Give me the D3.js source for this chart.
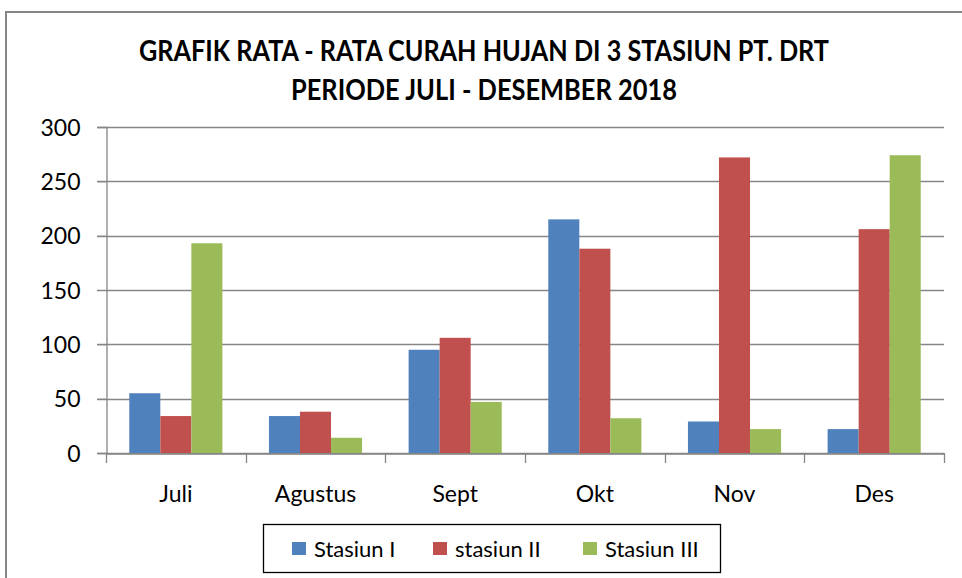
<!DOCTYPE html>
<html>
<head>
<meta charset="utf-8">
<script src="https://cdn.jsdelivr.net/npm/d3@7"></script>
<style>
  body { margin: 0; background: #fff; }
  text { font-family: Lato, "Open Sans", sans-serif; fill: #000; }
</style>
</head>
<body>
<script>
// Rainfall chart, 3 stations, Jul - Dec 2018
var width = 962;
var height = 578;

var months = ["Juli", "Agustus", "Sept", "Okt", "Nov", "Des"];
var seriesNames = ["Stasiun I", "stasiun II", "Stasiun III"];
var stasiun1 = [55, 34, 95, 215, 29, 22];
var stasiun2 = [34, 38, 106, 188, 272, 206];
var stasiun3 = [193, 14, 47, 32, 22, 274];
var yTicks = [0, 50, 100, 150, 200, 250, 300];
var colors = ["#4f81bd", "#c0504d", "#9bbb59"];

var margin = { top: 127, left: 106, right: 18, bottom: 125 };

var svg = d3.select("body")
  .append("svg")
  .attr("width", width)
  .attr("height", height);

// outer frame
svg.append("rect")
  .attr("x", 6).attr("y", 12)
  .attr("width", 980).attr("height", 600)
  .attr("fill", "none")
  .attr("stroke", "#868686")
  .attr("stroke-width", 2);

// title
svg.append("text")
  .attr("x", 484).attr("y", 61)
  .attr("text-anchor", "middle")
  .attr("font-weight", "bold")
  .attr("font-size", 28)
  .attr("textLength", 690)
  .attr("lengthAdjust", "spacingAndGlyphs")
  .text("GRAFIK RATA - RATA CURAH HUJAN DI 3 STASIUN PT. DRT");

svg.append("text")
  .attr("x", 484).attr("y", 100)
  .attr("text-anchor", "middle")
  .attr("font-weight", "bold")
  .attr("font-size", 28)
  .attr("textLength", 386)
  .attr("lengthAdjust", "spacingAndGlyphs")
  .text("PERIODE JULI - DESEMBER 2018");

var data = months.map(function(m, i) {
  return { month: m, values: [stasiun1[i], stasiun2[i], stasiun3[i]] };
});

// scales
var x0 = d3.scaleBand()
  .domain(months)
  .range([margin.left, width - margin.right]);

var x1 = d3.scaleBand()
  .domain(d3.range(seriesNames.length))
  .range([0, x0.bandwidth()])
  .paddingOuter(0.75);

var yScale = d3.scaleLinear()
  .domain([0, 300])
  .range([height - margin.bottom, margin.top]);

// gridlines
svg.append("g")
  .selectAll("line")
  .data(yTicks)
  .enter()
  .append("line")
    .attr("x1", margin.left - 9)
    .attr("x2", width - margin.right)
    .attr("y1", function(d) { return Math.round(yScale(d)) + 0.5; })
    .attr("y2", function(d) { return Math.round(yScale(d)) + 0.5; })
    .attr("stroke", "#868686")
    .attr("stroke-width", 1.3);

// y axis
var yAxis = svg.append("g")
  .attr("transform", "translate(" + (margin.left + 0.5) + ",0)")
  .call(d3.axisLeft(yScale).tickValues(yTicks).tickSize(9).tickPadding(17));
yAxis.select(".domain").attr("stroke", "#868686").attr("stroke-width", 1.3);
yAxis.selectAll(".tick line").attr("stroke", "#868686");
yAxis.selectAll("text")
  .attr("font-size", 23)
  .attr("font-family", "Lato, sans-serif")
  .attr("fill", "#000")
  .attr("dy", "0.36em");

// bars
var groups = svg.append("g")
  .selectAll("g")
  .data(data)
  .enter()
  .append("g")
    .attr("transform", function(d) { return "translate(" + x0(d.month) + ",0)"; });

groups.selectAll("rect")
  .data(function(d) { return d.values; })
  .enter()
  .append("rect")
    .attr("x", function(d, i) { return x1(i); })
    .attr("y", function(d) { return yScale(d); })
    .attr("width", x1.bandwidth())
    .attr("height", function(d) { return yScale(0) - yScale(d); })
    .attr("fill", function(d, i) { return colors[i]; });

// x axis
var xAxis = svg.append("g")
  .attr("transform", "translate(0," + (Math.round(yScale(0)) + 0.5) + ")")
  .call(d3.axisBottom(x0).tickSize(0).tickPadding(32));
xAxis.select(".domain").attr("stroke", "#868686").attr("stroke-width", 1.3);
xAxis.selectAll("text")
  .attr("font-size", 23)
  .attr("font-family", "Lato, sans-serif")
  .attr("fill", "#000");

// category separators
var bounds = months.map(function(m) { return x0(m); }).concat([width - margin.right]);
svg.append("g")
  .selectAll("line")
  .data(bounds)
  .enter()
  .append("line")
    .attr("x1", function(d) { return Math.round(d) + 0.5; })
    .attr("x2", function(d) { return Math.round(d) + 0.5; })
    .attr("y1", yScale(0))
    .attr("y2", yScale(0) + 10)
    .attr("stroke", "#868686")
    .attr("stroke-width", 1.3);

// legend
var legend = svg.append("g");
legend.append("rect")
  .attr("x", 263.5).attr("y", 524.5)
  .attr("width", 457).attr("height", 48)
  .attr("fill", "#fff")
  .attr("stroke", "#000")
  .attr("stroke-width", 1.3);

var legendX = [292, 433, 583];
var items = legend.selectAll("g.item")
  .data(seriesNames)
  .enter()
  .append("g")
    .attr("class", "item")
    .attr("transform", function(d, i) { return "translate(" + legendX[i] + ",542)"; });

items.append("rect")
  .attr("width", 14).attr("height", 13)
  .attr("fill", function(d, i) { return colors[i]; });

items.append("text")
  .attr("x", 22).attr("y", 15)
  .attr("font-size", 22)
  .text(function(d) { return d; });
</script>
</body>
</html>
